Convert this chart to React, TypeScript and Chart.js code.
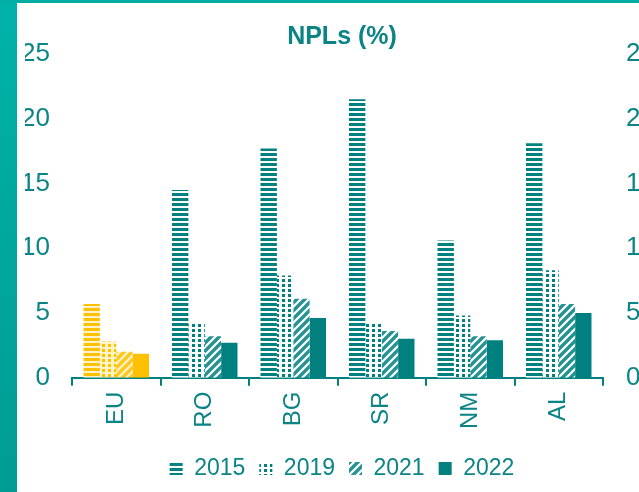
import React, { useEffect, useRef } from "react";
import { Chart, registerables } from "chart.js";

Chart.register(...registerables);

const categories = ["EU", "RO", "BG", "SR", "NM", "AL"];
const years = ["2015", "2019", "2021", "2022"];
const values2015 = [5.7, 14.5, 17.7, 21.5, 10.6, 18.1];
const values2019 = [2.8, 4.2, 7.9, 4.2, 4.8, 8.3];
const values2021 = [2.0, 3.2, 6.1, 3.6, 3.2, 5.7];
const values2022 = [1.85, 2.7, 4.6, 3.0, 2.9, 5.0];
const yTicks = [0, 5, 10, 15, 20, 25];

const TEAL = "#00807f";
const TEXT = "#0b8486";
const YELLOW = "#ffc000";
const FONT = "'Liberation Sans', Arial, sans-serif";

type Kind = "h" | "d" | "s" | "f";

function makePattern(kind: Kind, color: string, bg: string): CanvasPattern | string {
  if (kind === "f") return color;
  const c = document.createElement("canvas");
  const ctx = c.getContext("2d")!;
  if (kind === "h") {
    c.width = 4;
    c.height = 5;
    ctx.fillStyle = bg;
    ctx.fillRect(0, 0, 4, 5);
    ctx.fillStyle = color;
    ctx.fillRect(0, 0, 4, 3);
  } else if (kind === "d") {
    c.width = 6;
    c.height = 5;
    ctx.fillStyle = bg;
    ctx.fillRect(0, 0, 6, 5);
    ctx.fillStyle = color;
    ctx.fillRect(1, 1, 3, 3);
  } else {
    c.width = 8;
    c.height = 8;
    ctx.fillStyle = bg;
    ctx.fillRect(0, 0, 8, 8);
    ctx.strokeStyle = color;
    ctx.globalAlpha = 0.85;
    ctx.lineWidth = 3.4;
    ctx.beginPath();
    ctx.moveTo(-2, 10);
    ctx.lineTo(10, -2);
    ctx.moveTo(-6, 6);
    ctx.lineTo(6, -6);
    ctx.moveTo(2, 14);
    ctx.lineTo(14, 2);
    ctx.stroke();
  }
  return ctx.createPattern(c, "repeat")!;
}

export default function App() {
  const ref = useRef<HTMLCanvasElement | null>(null);

  useEffect(() => {
    if (!ref.current) return;
    const kinds: Kind[] = ["h", "d", "s", "f"];
    const series = [values2015, values2019, values2021, values2022];
    const tealP = kinds.map((k) => makePattern(k, TEAL, "#ffffff"));
    const yelP = kinds.map((k) => makePattern(k, YELLOW, "#fff3c8"));

    const chart = new Chart(ref.current, {
      type: "bar",
      data: {
        labels: categories,
        datasets: years.map((y, i) => ({
          label: y,
          data: series[i],
          backgroundColor: categories.map((c) => (c === "EU" ? yelP[i] : tealP[i])),
          borderWidth: 0,
          categoryPercentage: 0.74,
          barPercentage: 1,
        })),
      },
      options: {
        responsive: false,
        animation: false,
        layout: { padding: { left: 8, right: 8, top: 0, bottom: 2 } },
        plugins: {
          tooltip: { enabled: false },
          title: {
            display: true,
            text: "NPLs (%)",
            color: TEXT,
            font: { family: FONT, size: 25, weight: "bold" },
            padding: { top: 19, bottom: 2 },
          },
          legend: {
            position: "bottom",
            labels: {
              color: TEXT,
              font: { family: FONT, size: 23 },
              boxWidth: 13,
              boxHeight: 13,
              padding: 14,
              generateLabels: () =>
                years.map((y, i) => ({
                  text: y,
                  fillStyle: tealP[i] as any,
                  strokeStyle: "rgba(0,0,0,0)",
                  lineWidth: 0,
                  hidden: false,
                  datasetIndex: i,
                  fontColor: TEXT,
                })),
            },
          },
        },
        scales: {
          x: {
            offset: true,
            grid: {
              display: true,
              drawOnChartArea: false,
              drawTicks: true,
              tickLength: 8,
              color: TEAL,
              lineWidth: 2,
              offset: true,
            },
            border: { display: true, color: TEAL, width: 2 },
            ticks: {
              color: TEXT,
              font: { family: FONT, size: 24 },
              minRotation: 90,
              maxRotation: 90,
              padding: 6,
            },
            afterFit: (s: any) => {
              s.height += 8;
            },
          },
          y: {
            position: "left",
            min: 0,
            max: 25,
            grid: { display: false, drawTicks: false },
            border: { display: false },
            afterBuildTicks: (s: any) => {
              s.ticks = yTicks.map((v) => ({ value: v }));
            },
            afterFit: (s: any) => {
              s.width = 47;
            },
            ticks: {
              color: TEXT,
              font: { family: FONT, size: 26 },
              padding: 22,
            },
          },
          y2: {
            display: true,
            position: "right",
            min: 0,
            max: 25,
            grid: { display: false, drawTicks: false },
            border: { display: false },
            afterBuildTicks: (s: any) => {
              s.ticks = yTicks.map((v) => ({ value: v }));
            },
            afterFit: (s: any) => {
              s.width = 56;
            },
            ticks: {
              color: TEXT,
              font: { family: FONT, size: 26 },
              padding: 23,
            },
          },
        },
      },
    });
    return () => chart.destroy();
  }, []);

  return (
    <div
      style={{
        position: "fixed",
        left: 0,
        top: 0,
        width: 639,
        height: 492,
        overflow: "hidden",
        background: "#ffffff",
      }}
    >
      <div
        style={{
          position: "absolute",
          left: 0,
          top: 0,
          width: 17,
          height: 492,
          background: "linear-gradient(180deg, #00b3aa 0%, #00a99f 40%, #009c93 100%)",
        }}
      />
      <div
        style={{
          position: "absolute",
          left: 0,
          top: 0,
          width: 639,
          height: 3,
          background: "#00ada4",
        }}
      />
      <div style={{ position: "absolute", left: 17, top: 3, width: 650, height: 489 }}>
        <canvas ref={ref} width={650} height={489} style={{ display: "block" }} />
      </div>
    </div>
  );
}
